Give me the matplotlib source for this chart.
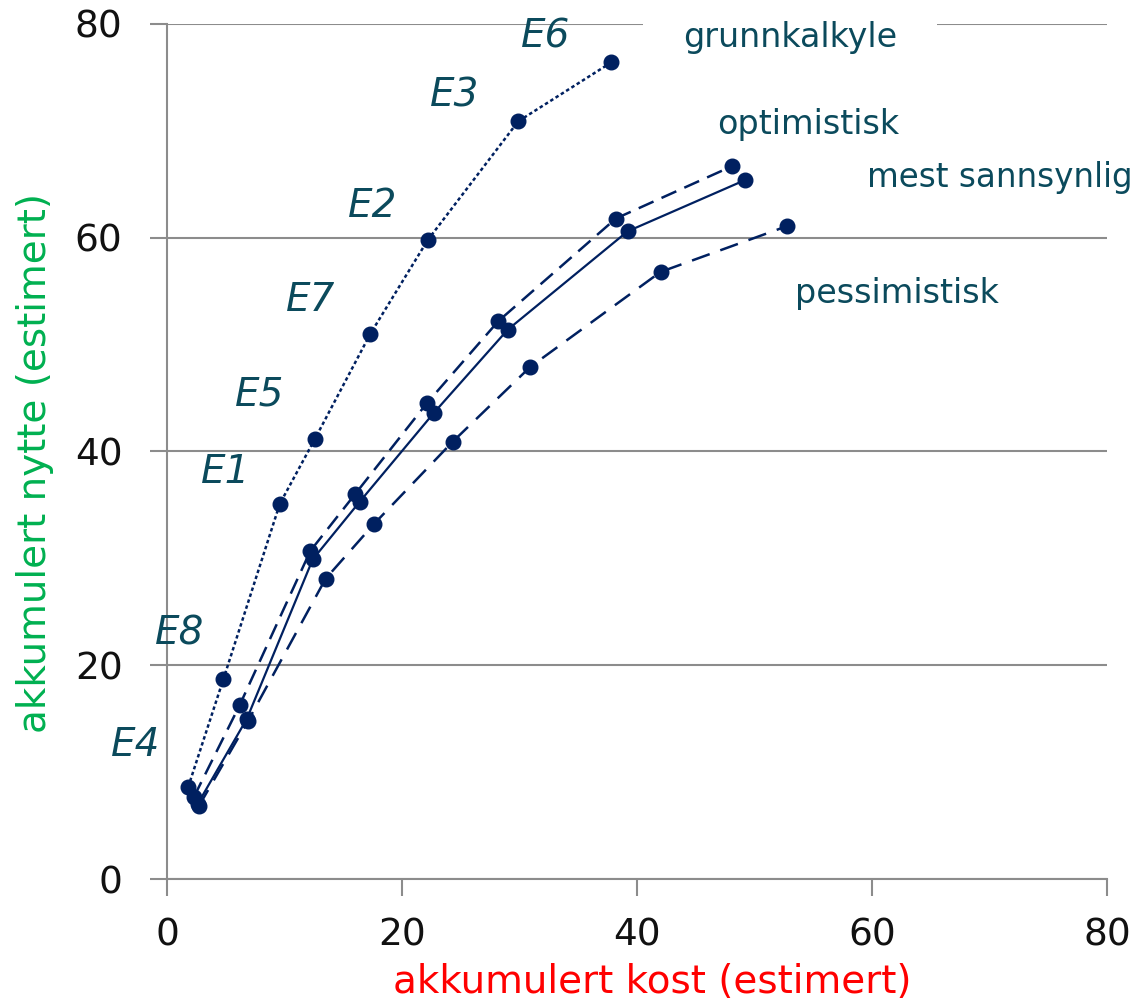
import matplotlib
matplotlib.use("Agg")
import matplotlib.pyplot as plt

# ---- data ----
grunn_x = [1.8, 4.8, 9.6, 12.6, 17.3, 22.2, 29.9, 37.8]
grunn_y = [8.6, 18.7, 35.1, 41.2, 51.0, 59.8, 70.9, 76.4]

opt_x = [2.3, 6.2, 12.2, 16.0, 22.1, 28.2, 38.2, 48.1]
opt_y = [7.7, 16.3, 30.7, 36.0, 44.5, 52.2, 61.8, 66.7]

mest_x = [2.6, 6.8, 12.4, 16.4, 22.7, 29.0, 39.2, 49.2]
mest_y = [7.0, 15.0, 29.9, 35.3, 43.6, 51.4, 60.6, 65.4]

pess_x = [2.7, 6.9, 13.5, 17.6, 24.3, 30.9, 42.0, 52.8]
pess_y = [6.8, 14.8, 28.1, 33.2, 40.9, 47.9, 56.8, 61.1]

epic_labels = ["E6", "E3", "E2", "E7", "E5", "E1", "E8", "E4"]
series_labels = ["grunnkalkyle", "optimistisk", "mest sannsynlig", "pessimistisk"]
x_ticks = [0, 20, 40, 60, 80]
y_ticks = [0, 20, 40, 60, 80]
x_title = "akkumulert kost (estimert)"
y_title = "akkumulert nytte (estimert)"

# ---- layout ----
epic_pos = [(32.2, 78.8), (24.5, 73.3), (17.5, 63.0), (12.2, 54.2),
            (7.9, 45.3), (5.0, 38.1), (1.1, 23.0), (-2.7, 12.5)]
series_pos = [(53.0, 78.7), (54.6, 70.6), (70.9, 65.6), (62.1, 54.8)]

navy = "#002060"
teal = "#0b4a5c"
grid_c = "#8c8c8c"

fig = plt.figure(figsize=(11.4, 10.05), dpi=100)
ax = fig.add_axes([167/1140, 126/1005, 940/1140, 855/1005])

ax.set_xlim(0, 80)
ax.set_ylim(0, 80)
ax.set_xticks(x_ticks)
ax.set_yticks(y_ticks)
ax.grid(axis="y", color=grid_c, lw=1.5, zorder=0)
for s in ["top", "right"]:
    ax.spines[s].set_visible(False)
for s in ["left", "bottom"]:
    ax.spines[s].set_color(grid_c)
    ax.spines[s].set_linewidth(1.5)
ax.tick_params(axis="both", length=12, width=1.5, color=grid_c,
               labelsize=27, labelcolor="#111111")
ax.tick_params(axis="x", pad=16)
ax.tick_params(axis="y", pad=20)

ms = 10.5
ax.plot(grunn_x, grunn_y, color=navy, lw=1.8, ls=(0, (1.4, 1.1)),
        marker="o", ms=ms, zorder=3)
ax.plot(opt_x, opt_y, color=navy, lw=1.8, ls=(0, (6.5, 3.5)),
        marker="o", ms=ms, zorder=3)
ax.plot(mest_x, mest_y, color=navy, lw=1.6, ls="-",
        marker="o", ms=ms, zorder=3)
ax.plot(pess_x, pess_y, color=navy, lw=1.8, ls=(0, (7.5, 4.5)),
        marker="o", ms=ms, zorder=3)

for lab, (x, y) in zip(epic_labels, epic_pos):
    ax.text(x, y, lab, fontsize=28, style="italic", color=teal,
            ha="center", va="center", clip_on=False, zorder=4)

for i, (lab, (x, y)) in enumerate(zip(series_labels, series_pos)):
    kw = {}
    if i == 0:
        kw["bbox"] = dict(boxstyle="square,pad=1.2", fc="white", ec="none")
    ax.text(x, y, lab, fontsize=24 if i != 2 else 23.5, color=teal,
            ha="center", va="center", clip_on=False, zorder=4, **kw)

fig.text(652/1140, 1 - 982/1005, x_title, color="#ff0000", fontsize=28,
         ha="center", va="center")
fig.text(35/1140, 1 - 463/1005, y_title, color="#00b050", fontsize=28,
         ha="center", va="center", rotation=90)

fig.savefig("out.png", dpi=100)
